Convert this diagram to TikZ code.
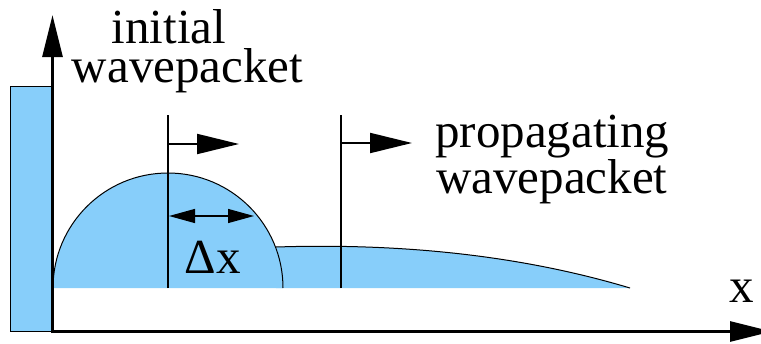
\documentclass[tikz,border=0pt]{standalone}
\usepackage{fontspec}
\setmainfont{Liberation Serif}
\usetikzlibrary{arrows.meta}
\definecolor{wave}{HTML}{87CEFA}
\begin{document}
\begin{tikzpicture}[x=1pt,y=-1pt,
  lbl/.style={font=\fontsize{49}{52}\selectfont, inner sep=0pt, anchor=base},
  axis/.style={line width=3pt, -{Triangle[length=42pt,width=20pt]}},
  marker/.style={line width=1.3pt},
  move/.style={line width=2pt, -{Triangle[length=42pt,width=20pt]}},
  outline/.style={line width=1pt}]
\useasboundingbox (0,0) rectangle (761,343);
% wall
\filldraw[fill=wave, draw=black, line width=0.9pt] (10,86) rectangle (52,331);
% propagating packet
\fill[wave] (276,247) .. controls (400,243) and (520,255) .. (630,288) -- (276,288) -- cycle;
\draw[outline] (276,247) .. controls (400,243) and (520,255) .. (630,288);
% initial packet
\fill[wave] (53,288) arc[start angle=180, end angle=360, radius=115] -- cycle;
\draw[outline] (53,288) arc[start angle=180, end angle=360, radius=115];
% markers
\coordinate (v1b) at (168,288);
\coordinate (v1t) at (168,115);
\coordinate (v2b) at (341,288);
\coordinate (v2t) at (341,115);
\draw[marker] (v1b) -- (v1t);
\draw[marker] (v2b) -- (v2t);
\coordinate (a1s) at (168,144);
\coordinate (a1e) at (239,144);
\coordinate (a2s) at (341,143);
\coordinate (a2e) at (412,143);
\draw[move] (a1s) -- (a1e);
\draw[move] (a2s) -- (a2e);
% width arrow
\coordinate (d1) at (169,216);
\coordinate (d2) at (254,216);
\draw[line width=1.3pt, {Triangle[length=26pt,width=14pt]}-{Triangle[length=26pt,width=14pt]}] (d1) -- (d2);
% axes
\coordinate (o1) at (52.5,333);
\coordinate (ytop) at (52.5,15);
\coordinate (o2) at (51,331.5);
\coordinate (xend) at (772,331.5);
\draw[axis] (o1) -- (ytop);
\draw[axis] (o2) -- (xend);
% labels
\node[lbl, anchor=base, align=center, font=\fontsize{49}{39}\selectfont] (init) at (187.5,82) {initial\hspace*{37pt}\\wavepacket};
\node[lbl, anchor=base west, align=left, font=\fontsize{49}{46}\selectfont] (prop) at (435,193) {propagating\\\hspace*{1pt}wavepacket};
\node[lbl] (dx) at (212.5,273) {Δx};
\node[lbl] (xl) at (741.5,302) {x};
\end{tikzpicture}
\end{document}
